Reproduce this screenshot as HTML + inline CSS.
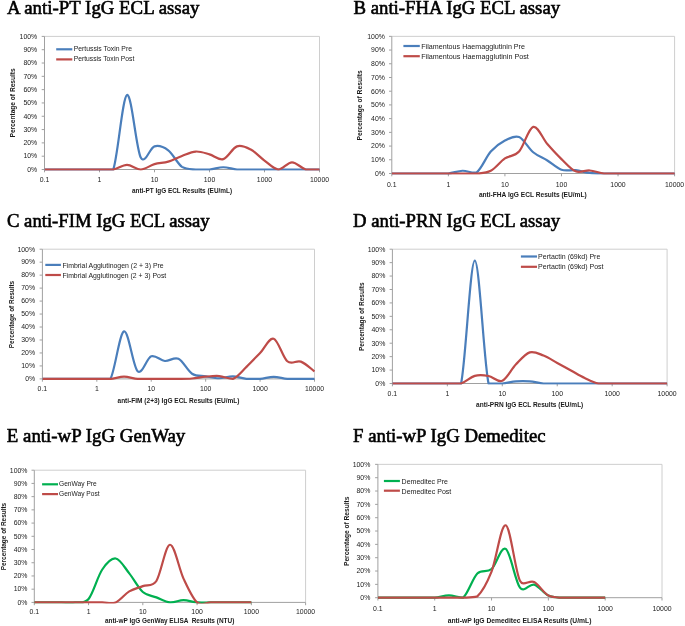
<!DOCTYPE html>
<html><head><meta charset="utf-8"><style>
html,body{margin:0;padding:0;background:#fff;width:685px;height:626px;overflow:hidden}
svg{display:block;will-change:transform}
</style></head><body>
<svg width="685" height="626" viewBox="0 0 685 626" font-family='"Liberation Sans", sans-serif' fill="#1a1a1a">
<rect width="685" height="626" fill="#fff"/>
<text x="7.0" y="13.7" font-family='"Liberation Serif", serif' font-size="18.84" fill="#000" stroke="#000" stroke-width="0.6">A anti-PT IgG ECL assay</text>
<path d="M44.5,36.4H319.5V169.5" fill="none" stroke="#CECECE" stroke-width="1"/>
<path d="M44.5,36.4V169.5" fill="none" stroke="#A0A0A0" stroke-width="1"/>
<path d="M41.70,169.50H44.5M41.70,156.19H44.5M41.70,142.88H44.5M41.70,129.57H44.5M41.70,116.26H44.5M41.70,102.95H44.5M41.70,89.64H44.5M41.70,76.33H44.5M41.70,63.02H44.5M41.70,49.71H44.5M41.70,36.40H44.5" fill="none" stroke="#A0A0A0" stroke-width="1"/>
<path d="M44.5,169.5H319.5" fill="none" stroke="#A0A0A0" stroke-width="1"/>
<path d="M44.50,169.5V172.30M99.50,169.5V172.30M154.50,169.5V172.30M209.50,169.5V172.30M264.50,169.5V172.30M319.50,169.5V172.30" fill="none" stroke="#A0A0A0" stroke-width="1"/>
<text x="37.199999999999996" y="171.80" text-anchor="end" font-size="7.5" textLength="9.97" lengthAdjust="spacingAndGlyphs">0%</text>
<text x="37.199999999999996" y="158.49" text-anchor="end" font-size="7.5" textLength="13.81" lengthAdjust="spacingAndGlyphs">10%</text>
<text x="37.199999999999996" y="145.18" text-anchor="end" font-size="7.5" textLength="13.81" lengthAdjust="spacingAndGlyphs">20%</text>
<text x="37.199999999999996" y="131.87" text-anchor="end" font-size="7.5" textLength="13.81" lengthAdjust="spacingAndGlyphs">30%</text>
<text x="37.199999999999996" y="118.56" text-anchor="end" font-size="7.5" textLength="13.81" lengthAdjust="spacingAndGlyphs">40%</text>
<text x="37.199999999999996" y="105.25" text-anchor="end" font-size="7.5" textLength="13.81" lengthAdjust="spacingAndGlyphs">50%</text>
<text x="37.199999999999996" y="91.94" text-anchor="end" font-size="7.5" textLength="13.81" lengthAdjust="spacingAndGlyphs">60%</text>
<text x="37.199999999999996" y="78.63" text-anchor="end" font-size="7.5" textLength="13.81" lengthAdjust="spacingAndGlyphs">70%</text>
<text x="37.199999999999996" y="65.32" text-anchor="end" font-size="7.5" textLength="13.81" lengthAdjust="spacingAndGlyphs">80%</text>
<text x="37.199999999999996" y="52.01" text-anchor="end" font-size="7.5" textLength="13.81" lengthAdjust="spacingAndGlyphs">90%</text>
<text x="37.199999999999996" y="38.70" text-anchor="end" font-size="7.5" textLength="17.65" lengthAdjust="spacingAndGlyphs">100%</text>
<text x="44.50" y="182.4" text-anchor="middle" font-size="7.5" textLength="9.59" lengthAdjust="spacingAndGlyphs">0.1</text>
<text x="99.50" y="182.4" text-anchor="middle" font-size="7.5" textLength="3.84" lengthAdjust="spacingAndGlyphs">1</text>
<text x="154.50" y="182.4" text-anchor="middle" font-size="7.5" textLength="7.67" lengthAdjust="spacingAndGlyphs">10</text>
<text x="209.50" y="182.4" text-anchor="middle" font-size="7.5" textLength="11.51" lengthAdjust="spacingAndGlyphs">100</text>
<text x="264.50" y="182.4" text-anchor="middle" font-size="7.5" textLength="15.35" lengthAdjust="spacingAndGlyphs">1000</text>
<text x="319.50" y="182.4" text-anchor="middle" font-size="7.5" textLength="19.19" lengthAdjust="spacingAndGlyphs">10000</text>
<text x="131.9" y="192.65" font-size="7.0" font-weight="bold" textLength="100.2" lengthAdjust="spacingAndGlyphs" xml:space="preserve">anti-PT IgG ECL Results (EU/mL)</text>
<text transform="translate(15.3,137.5) rotate(-90)" x="0" y="0" font-size="6.6" font-weight="bold" textLength="69.2" lengthAdjust="spacingAndGlyphs">Percentage of Results</text>
<path d="M56.2,49.3H72.3" stroke="#4A7EBB" stroke-width="2.2" fill="none"/>
<text x="73.70" y="51.25" font-size="7.3" textLength="58.3" lengthAdjust="spacingAndGlyphs">Pertussis Toxin Pre</text>
<path d="M56.2,59.4H72.3" stroke="#BE4B48" stroke-width="2.2" fill="none"/>
<text x="73.70" y="61.35" font-size="7.3" textLength="60.7" lengthAdjust="spacingAndGlyphs">Pertussis Toxin Post</text>
<clipPath id="clipA"><rect x="44.5" y="33.4" width="275.5" height="137.29999999999998"/></clipPath>
<path clip-path="url(#clipA)" d="M44.50,169.50 C46.79,169.50 53.67,169.50 58.25,169.50 C62.83,169.50 67.42,169.50 72.00,169.50 C76.58,169.50 81.17,169.50 85.75,169.50 C90.33,169.50 94.92,169.50 99.50,169.50 C104.08,169.50 110.87,169.50 113.25,169.50 C117.83,157.08 122.42,96.96 127.00,94.96 C131.58,92.97 136.17,148.96 140.75,157.52 C144.93,165.33 149.92,147.54 154.50,146.34 C159.08,145.14 163.67,146.92 168.25,150.33 C172.83,153.75 177.42,163.64 182.00,166.84 C186.58,169.50 191.17,169.06 195.75,169.50 C200.33,169.50 204.92,169.50 209.50,169.50 C214.08,169.12 218.67,167.24 223.25,167.24 C227.83,167.24 232.42,169.12 237.00,169.50 C241.58,169.50 246.17,169.50 250.75,169.50 C255.33,169.50 259.92,169.50 264.50,169.50 C269.08,169.50 273.67,169.50 278.25,169.50 C282.83,169.50 287.42,169.50 292.00,169.50 C296.58,169.50 301.17,169.50 305.75,169.50 C310.33,169.50 317.21,169.50 319.50,169.50" fill="none" stroke="#4A7EBB" stroke-width="2.2" stroke-linejoin="round"/>
<path clip-path="url(#clipA)" d="M44.50,169.50 C46.79,169.50 53.67,169.50 58.25,169.50 C62.83,169.50 67.42,169.50 72.00,169.50 C76.58,169.50 81.17,169.50 85.75,169.50 C90.33,169.50 94.92,169.50 99.50,169.50 C104.08,169.50 108.67,169.50 113.25,169.50 C117.83,168.72 122.42,164.84 127.00,164.84 C131.58,164.84 136.17,169.50 140.75,169.50 C145.33,169.39 149.92,165.48 154.50,164.18 C159.08,162.87 163.67,163.02 168.25,161.65 C172.83,160.27 177.42,157.61 182.00,155.92 C186.58,154.24 191.17,151.80 195.75,151.53 C200.33,151.27 204.92,153.06 209.50,154.33 C214.08,155.59 218.67,160.45 223.25,159.12 C227.83,157.79 232.42,147.94 237.00,146.34 C241.58,144.74 246.17,147.16 250.75,149.53 C255.33,151.91 259.92,157.25 264.50,160.58 C269.08,163.91 273.67,169.21 278.25,169.50 C282.83,169.50 287.42,162.31 292.00,162.31 C296.58,162.31 301.17,168.30 305.75,169.50 C310.33,169.50 317.21,169.50 319.50,169.50" fill="none" stroke="#BE4B48" stroke-width="2.2" stroke-linejoin="round"/>
<text x="353.5" y="13.7" font-family='"Liberation Serif", serif' font-size="18.75" fill="#000" stroke="#000" stroke-width="0.6">B anti-FHA IgG ECL assay</text>
<path d="M391.8,36.35H674.6V173.5" fill="none" stroke="#CECECE" stroke-width="1"/>
<path d="M391.8,36.35V173.5" fill="none" stroke="#A0A0A0" stroke-width="1"/>
<path d="M389.00,173.50H391.8M389.00,159.78H391.8M389.00,146.07H391.8M389.00,132.36H391.8M389.00,118.64H391.8M389.00,104.92H391.8M389.00,91.21H391.8M389.00,77.50H391.8M389.00,63.78H391.8M389.00,50.06H391.8M389.00,36.35H391.8" fill="none" stroke="#A0A0A0" stroke-width="1"/>
<path d="M391.8,173.5H674.6" fill="none" stroke="#A0A0A0" stroke-width="1"/>
<path d="M391.80,173.5V176.30M448.36,173.5V176.30M504.92,173.5V176.30M561.48,173.5V176.30M618.04,173.5V176.30M674.60,173.5V176.30" fill="none" stroke="#A0A0A0" stroke-width="1"/>
<text x="384.90000000000003" y="175.80" text-anchor="end" font-size="7.5" textLength="9.97" lengthAdjust="spacingAndGlyphs">0%</text>
<text x="384.90000000000003" y="162.09" text-anchor="end" font-size="7.5" textLength="13.81" lengthAdjust="spacingAndGlyphs">10%</text>
<text x="384.90000000000003" y="148.37" text-anchor="end" font-size="7.5" textLength="13.81" lengthAdjust="spacingAndGlyphs">20%</text>
<text x="384.90000000000003" y="134.66" text-anchor="end" font-size="7.5" textLength="13.81" lengthAdjust="spacingAndGlyphs">30%</text>
<text x="384.90000000000003" y="120.94" text-anchor="end" font-size="7.5" textLength="13.81" lengthAdjust="spacingAndGlyphs">40%</text>
<text x="384.90000000000003" y="107.22" text-anchor="end" font-size="7.5" textLength="13.81" lengthAdjust="spacingAndGlyphs">50%</text>
<text x="384.90000000000003" y="93.51" text-anchor="end" font-size="7.5" textLength="13.81" lengthAdjust="spacingAndGlyphs">60%</text>
<text x="384.90000000000003" y="79.80" text-anchor="end" font-size="7.5" textLength="13.81" lengthAdjust="spacingAndGlyphs">70%</text>
<text x="384.90000000000003" y="66.08" text-anchor="end" font-size="7.5" textLength="13.81" lengthAdjust="spacingAndGlyphs">80%</text>
<text x="384.90000000000003" y="52.36" text-anchor="end" font-size="7.5" textLength="13.81" lengthAdjust="spacingAndGlyphs">90%</text>
<text x="384.90000000000003" y="38.65" text-anchor="end" font-size="7.5" textLength="17.65" lengthAdjust="spacingAndGlyphs">100%</text>
<text x="391.80" y="186.5" text-anchor="middle" font-size="7.5" textLength="9.59" lengthAdjust="spacingAndGlyphs">0.1</text>
<text x="448.36" y="186.5" text-anchor="middle" font-size="7.5" textLength="3.84" lengthAdjust="spacingAndGlyphs">1</text>
<text x="504.92" y="186.5" text-anchor="middle" font-size="7.5" textLength="7.67" lengthAdjust="spacingAndGlyphs">10</text>
<text x="561.48" y="186.5" text-anchor="middle" font-size="7.5" textLength="11.51" lengthAdjust="spacingAndGlyphs">100</text>
<text x="618.04" y="186.5" text-anchor="middle" font-size="7.5" textLength="15.35" lengthAdjust="spacingAndGlyphs">1000</text>
<text x="674.60" y="186.5" text-anchor="middle" font-size="7.5" textLength="19.19" lengthAdjust="spacingAndGlyphs">10000</text>
<text x="478.9" y="196.85" font-size="7.0" font-weight="bold" textLength="107.8" lengthAdjust="spacingAndGlyphs" xml:space="preserve">anti-FHA IgG ECL Results (EU/mL)</text>
<text transform="translate(362.0,140.5) rotate(-90)" x="0" y="0" font-size="6.6" font-weight="bold" textLength="70.3" lengthAdjust="spacingAndGlyphs">Percentage of Results</text>
<path d="M403.4,46.0H419.8" stroke="#4A7EBB" stroke-width="2.2" fill="none"/>
<text x="421.20" y="48.80" font-size="7.3" textLength="103.8" lengthAdjust="spacingAndGlyphs">Filamentous Haemagglutinin Pre</text>
<path d="M403.4,56.2H419.8" stroke="#BE4B48" stroke-width="2.2" fill="none"/>
<text x="421.20" y="59.00" font-size="7.3" textLength="107.6" lengthAdjust="spacingAndGlyphs">Filamentous Haemagglutinin Post</text>
<clipPath id="clipB"><rect x="391.8" y="33.35" width="283.3" height="141.35"/></clipPath>
<path clip-path="url(#clipB)" d="M391.80,173.50 C394.16,173.50 401.23,173.50 405.94,173.50 C410.65,173.50 415.37,173.50 420.08,173.50 C424.79,173.50 429.51,173.50 434.22,173.50 C438.93,173.50 443.65,173.50 448.36,173.50 C453.07,173.04 457.79,170.94 462.50,170.76 C467.21,170.57 471.93,173.50 476.64,172.40 C481.35,169.20 486.07,156.86 490.78,151.56 C495.49,146.25 500.21,143.01 504.92,140.58 C509.63,138.16 514.35,135.08 519.06,137.02 C523.77,138.96 528.49,148.33 533.20,152.24 C537.91,156.15 542.63,157.54 547.34,160.47 C552.05,163.40 556.77,168.17 561.48,169.80 C566.19,171.42 570.91,169.68 575.62,170.21 C580.33,170.73 585.05,172.40 589.76,172.95 C594.47,173.50 599.19,173.41 603.90,173.50 C608.61,173.50 613.33,173.50 618.04,173.50 C622.75,173.50 627.47,173.50 632.18,173.50 C636.89,173.50 641.61,173.50 646.32,173.50 C651.03,173.50 655.75,173.50 660.46,173.50 C665.17,173.50 672.24,173.50 674.60,173.50" fill="none" stroke="#4A7EBB" stroke-width="2.2" stroke-linejoin="round"/>
<path clip-path="url(#clipB)" d="M391.80,173.50 C394.16,173.50 401.23,173.50 405.94,173.50 C410.65,173.50 415.37,173.50 420.08,173.50 C424.79,173.50 429.51,173.50 434.22,173.50 C438.93,173.50 443.65,173.50 448.36,173.50 C453.07,173.50 457.79,173.50 462.50,173.50 C467.21,173.50 471.93,173.50 476.64,173.50 C481.35,173.04 486.07,173.27 490.78,170.76 C495.49,168.24 500.21,161.61 504.92,158.41 C509.63,155.21 514.35,156.81 519.06,151.56 C523.77,146.30 528.49,128.13 533.20,126.87 C537.91,125.61 542.63,138.64 547.34,144.01 C552.05,149.38 556.77,154.55 561.48,159.10 C566.19,163.65 570.91,169.41 575.62,171.31 C580.33,173.20 585.05,170.12 589.76,170.48 C594.47,170.85 599.19,173.00 603.90,173.50 C608.61,173.50 613.33,173.50 618.04,173.50 C622.75,173.50 627.47,173.50 632.18,173.50 C636.89,173.50 641.61,173.50 646.32,173.50 C651.03,173.50 655.75,173.50 660.46,173.50 C665.17,173.50 672.24,173.50 674.60,173.50" fill="none" stroke="#BE4B48" stroke-width="2.2" stroke-linejoin="round"/>
<text x="7.0" y="227.0" font-family='"Liberation Serif", serif' font-size="18.68" fill="#000" stroke="#000" stroke-width="0.6">C anti-FIM IgG ECL assay</text>
<path d="M42.4,249.2H314.5V378.9" fill="none" stroke="#CECECE" stroke-width="1"/>
<path d="M42.4,249.2V378.9" fill="none" stroke="#A0A0A0" stroke-width="1"/>
<path d="M39.60,378.90H42.4M39.60,365.93H42.4M39.60,352.96H42.4M39.60,339.99H42.4M39.60,327.02H42.4M39.60,314.05H42.4M39.60,301.08H42.4M39.60,288.11H42.4M39.60,275.14H42.4M39.60,262.17H42.4M39.60,249.20H42.4" fill="none" stroke="#A0A0A0" stroke-width="1"/>
<path d="M42.4,378.9H314.5" fill="none" stroke="#A0A0A0" stroke-width="1"/>
<path d="M42.40,378.9V381.70M96.82,378.9V381.70M151.24,378.9V381.70M205.66,378.9V381.70M260.08,378.9V381.70M314.50,378.9V381.70" fill="none" stroke="#A0A0A0" stroke-width="1"/>
<text x="35.099999999999994" y="381.20" text-anchor="end" font-size="7.5" textLength="9.97" lengthAdjust="spacingAndGlyphs">0%</text>
<text x="35.099999999999994" y="368.23" text-anchor="end" font-size="7.5" textLength="13.81" lengthAdjust="spacingAndGlyphs">10%</text>
<text x="35.099999999999994" y="355.26" text-anchor="end" font-size="7.5" textLength="13.81" lengthAdjust="spacingAndGlyphs">20%</text>
<text x="35.099999999999994" y="342.29" text-anchor="end" font-size="7.5" textLength="13.81" lengthAdjust="spacingAndGlyphs">30%</text>
<text x="35.099999999999994" y="329.32" text-anchor="end" font-size="7.5" textLength="13.81" lengthAdjust="spacingAndGlyphs">40%</text>
<text x="35.099999999999994" y="316.35" text-anchor="end" font-size="7.5" textLength="13.81" lengthAdjust="spacingAndGlyphs">50%</text>
<text x="35.099999999999994" y="303.38" text-anchor="end" font-size="7.5" textLength="13.81" lengthAdjust="spacingAndGlyphs">60%</text>
<text x="35.099999999999994" y="290.41" text-anchor="end" font-size="7.5" textLength="13.81" lengthAdjust="spacingAndGlyphs">70%</text>
<text x="35.099999999999994" y="277.44" text-anchor="end" font-size="7.5" textLength="13.81" lengthAdjust="spacingAndGlyphs">80%</text>
<text x="35.099999999999994" y="264.47" text-anchor="end" font-size="7.5" textLength="13.81" lengthAdjust="spacingAndGlyphs">90%</text>
<text x="35.099999999999994" y="251.50" text-anchor="end" font-size="7.5" textLength="17.65" lengthAdjust="spacingAndGlyphs">100%</text>
<text x="42.40" y="391.1" text-anchor="middle" font-size="7.5" textLength="9.59" lengthAdjust="spacingAndGlyphs">0.1</text>
<text x="96.82" y="391.1" text-anchor="middle" font-size="7.5" textLength="3.84" lengthAdjust="spacingAndGlyphs">1</text>
<text x="151.24" y="391.1" text-anchor="middle" font-size="7.5" textLength="7.67" lengthAdjust="spacingAndGlyphs">10</text>
<text x="205.66" y="391.1" text-anchor="middle" font-size="7.5" textLength="11.51" lengthAdjust="spacingAndGlyphs">100</text>
<text x="260.08" y="391.1" text-anchor="middle" font-size="7.5" textLength="15.35" lengthAdjust="spacingAndGlyphs">1000</text>
<text x="314.50" y="391.1" text-anchor="middle" font-size="7.5" textLength="19.19" lengthAdjust="spacingAndGlyphs">10000</text>
<text x="117.5" y="402.95" font-size="7.0" font-weight="bold" textLength="122.0" lengthAdjust="spacingAndGlyphs" xml:space="preserve">anti-FIM (2+3) IgG ECL Results (EU/mL)</text>
<text transform="translate(13.899999999999999,348.2) rotate(-90)" x="0" y="0" font-size="6.6" font-weight="bold" textLength="67.4" lengthAdjust="spacingAndGlyphs">Percentage of Results</text>
<path d="M45.3,264.9H60.9" stroke="#4A7EBB" stroke-width="2.2" fill="none"/>
<text x="62.40" y="267.85" font-size="7.3" textLength="101.3" lengthAdjust="spacingAndGlyphs">Fimbrial Agglutinogen (2 + 3) Pre</text>
<path d="M45.3,275.0H60.9" stroke="#BE4B48" stroke-width="2.2" fill="none"/>
<text x="62.40" y="277.95" font-size="7.3" textLength="103.9" lengthAdjust="spacingAndGlyphs">Fimbrial Agglutinogen (2 + 3) Post</text>
<clipPath id="clipC"><rect x="42.4" y="246.2" width="272.6" height="133.89999999999998"/></clipPath>
<path clip-path="url(#clipC)" d="M42.40,378.90 C44.67,378.90 51.47,378.90 56.00,378.90 C60.54,378.90 65.08,378.90 69.61,378.90 C74.14,378.90 78.68,378.90 83.22,378.90 C87.75,378.90 92.28,378.90 96.82,378.90 C101.35,378.90 107.04,378.90 110.43,378.90 C114.96,370.99 119.50,332.71 124.03,331.43 C128.56,330.15 133.10,367.10 137.63,371.25 C142.17,375.40 146.71,358.04 151.24,356.33 C155.78,354.62 160.31,360.59 164.84,361.00 C169.38,361.41 173.92,356.68 178.45,358.80 C182.99,360.91 187.52,370.79 192.06,373.71 C196.59,376.63 201.12,375.55 205.66,376.31 C210.19,377.06 214.73,378.25 219.27,378.25 C223.80,378.25 228.34,376.20 232.87,376.31 C237.41,376.41 241.94,378.47 246.48,378.90 C251.01,378.90 255.54,378.90 260.08,378.90 C264.62,378.55 269.15,376.82 273.69,376.82 C278.22,376.82 282.75,378.55 287.29,378.90 C291.83,378.90 296.36,378.90 300.89,378.90 C305.43,378.90 312.23,378.90 314.50,378.90" fill="none" stroke="#4A7EBB" stroke-width="2.2" stroke-linejoin="round"/>
<path clip-path="url(#clipC)" d="M42.40,378.90 C44.67,378.90 51.47,378.90 56.00,378.90 C60.54,378.90 65.08,378.90 69.61,378.90 C74.14,378.90 78.68,378.90 83.22,378.90 C87.75,378.90 92.28,378.90 96.82,378.90 C101.35,378.90 105.89,378.90 110.43,378.90 C114.96,378.53 119.50,376.70 124.03,376.70 C128.56,376.70 133.10,378.53 137.63,378.90 C142.17,378.90 146.71,378.90 151.24,378.90 C155.78,378.90 160.31,378.90 164.84,378.90 C169.38,378.90 173.92,378.90 178.45,378.90 C182.99,378.84 187.52,378.88 192.06,378.51 C196.59,378.14 201.12,377.11 205.66,376.70 C210.19,376.28 214.73,375.68 219.27,376.05 C223.80,376.41 228.34,378.90 232.87,378.90 C237.41,377.37 241.94,371.16 246.48,366.84 C251.01,362.51 255.54,357.65 260.08,352.96 C264.62,348.27 269.15,337.31 273.69,338.69 C278.22,340.08 282.75,357.43 287.29,361.26 C291.83,365.09 296.36,359.96 300.89,361.65 C305.43,363.34 312.23,369.76 314.50,371.38" fill="none" stroke="#BE4B48" stroke-width="2.2" stroke-linejoin="round"/>
<text x="353.1" y="227.0" font-family='"Liberation Serif", serif' font-size="18.72" fill="#000" stroke="#000" stroke-width="0.6">D anti-PRN IgG ECL assay</text>
<path d="M392.4,249.2H667.1V383.5" fill="none" stroke="#CECECE" stroke-width="1"/>
<path d="M392.4,249.2V383.5" fill="none" stroke="#A0A0A0" stroke-width="1"/>
<path d="M389.60,383.50H392.4M389.60,370.07H392.4M389.60,356.64H392.4M389.60,343.21H392.4M389.60,329.78H392.4M389.60,316.35H392.4M389.60,302.92H392.4M389.60,289.49H392.4M389.60,276.06H392.4M389.60,262.63H392.4M389.60,249.20H392.4" fill="none" stroke="#A0A0A0" stroke-width="1"/>
<path d="M392.4,383.5H667.1" fill="none" stroke="#A0A0A0" stroke-width="1"/>
<path d="M392.40,383.5V386.30M447.34,383.5V386.30M502.28,383.5V386.30M557.22,383.5V386.30M612.16,383.5V386.30M667.10,383.5V386.30" fill="none" stroke="#A0A0A0" stroke-width="1"/>
<text x="385.3" y="385.80" text-anchor="end" font-size="7.5" textLength="9.97" lengthAdjust="spacingAndGlyphs">0%</text>
<text x="385.3" y="372.37" text-anchor="end" font-size="7.5" textLength="13.81" lengthAdjust="spacingAndGlyphs">10%</text>
<text x="385.3" y="358.94" text-anchor="end" font-size="7.5" textLength="13.81" lengthAdjust="spacingAndGlyphs">20%</text>
<text x="385.3" y="345.51" text-anchor="end" font-size="7.5" textLength="13.81" lengthAdjust="spacingAndGlyphs">30%</text>
<text x="385.3" y="332.08" text-anchor="end" font-size="7.5" textLength="13.81" lengthAdjust="spacingAndGlyphs">40%</text>
<text x="385.3" y="318.65" text-anchor="end" font-size="7.5" textLength="13.81" lengthAdjust="spacingAndGlyphs">50%</text>
<text x="385.3" y="305.22" text-anchor="end" font-size="7.5" textLength="13.81" lengthAdjust="spacingAndGlyphs">60%</text>
<text x="385.3" y="291.79" text-anchor="end" font-size="7.5" textLength="13.81" lengthAdjust="spacingAndGlyphs">70%</text>
<text x="385.3" y="278.36" text-anchor="end" font-size="7.5" textLength="13.81" lengthAdjust="spacingAndGlyphs">80%</text>
<text x="385.3" y="264.93" text-anchor="end" font-size="7.5" textLength="13.81" lengthAdjust="spacingAndGlyphs">90%</text>
<text x="385.3" y="251.50" text-anchor="end" font-size="7.5" textLength="17.65" lengthAdjust="spacingAndGlyphs">100%</text>
<text x="392.40" y="395.8" text-anchor="middle" font-size="7.5" textLength="9.59" lengthAdjust="spacingAndGlyphs">0.1</text>
<text x="447.34" y="395.8" text-anchor="middle" font-size="7.5" textLength="3.84" lengthAdjust="spacingAndGlyphs">1</text>
<text x="502.28" y="395.8" text-anchor="middle" font-size="7.5" textLength="7.67" lengthAdjust="spacingAndGlyphs">10</text>
<text x="557.22" y="395.8" text-anchor="middle" font-size="7.5" textLength="11.51" lengthAdjust="spacingAndGlyphs">100</text>
<text x="612.16" y="395.8" text-anchor="middle" font-size="7.5" textLength="15.35" lengthAdjust="spacingAndGlyphs">1000</text>
<text x="667.10" y="395.8" text-anchor="middle" font-size="7.5" textLength="19.19" lengthAdjust="spacingAndGlyphs">10000</text>
<text x="476.1" y="406.84999999999997" font-size="7.0" font-weight="bold" textLength="107.2" lengthAdjust="spacingAndGlyphs" xml:space="preserve">anti-PRN IgG ECL Results (EU/mL)</text>
<text transform="translate(363.59999999999997,351.0) rotate(-90)" x="0" y="0" font-size="6.6" font-weight="bold" textLength="68.6" lengthAdjust="spacingAndGlyphs">Percentage of Results</text>
<path d="M520.9,256.5H537.0" stroke="#4A7EBB" stroke-width="2.2" fill="none"/>
<text x="538.10" y="258.95" font-size="7.3" textLength="62.2" lengthAdjust="spacingAndGlyphs">Pertactin (69kd) Pre</text>
<path d="M520.9,266.8H537.0" stroke="#BE4B48" stroke-width="2.2" fill="none"/>
<text x="538.10" y="269.25" font-size="7.3" textLength="65.4" lengthAdjust="spacingAndGlyphs">Pertactin (69kd) Post</text>
<clipPath id="clipD"><rect x="392.4" y="246.2" width="275.20000000000005" height="138.5"/></clipPath>
<path clip-path="url(#clipD)" d="M392.40,383.50 C394.69,383.50 401.56,383.50 406.13,383.50 C410.71,383.50 415.29,383.50 419.87,383.50 C424.45,383.50 429.03,383.50 433.61,383.50 C438.18,383.50 442.76,383.50 447.34,383.50 C451.92,383.50 459.58,383.50 461.07,383.50 C465.65,363.02 470.23,260.62 474.81,260.62 C479.39,260.62 483.97,363.02 488.55,383.50 C490.04,383.50 497.70,383.50 502.28,383.50 C506.86,383.14 511.44,381.71 516.01,381.35 C520.59,380.99 525.17,380.99 529.75,381.35 C534.33,381.71 538.91,383.14 543.49,383.50 C548.06,383.50 552.64,383.50 557.22,383.50 C561.80,383.50 566.38,383.50 570.96,383.50 C575.53,383.50 580.11,383.50 584.69,383.50 C589.27,383.50 593.85,383.50 598.42,383.50 C603.00,383.50 607.58,383.50 612.16,383.50 C616.74,383.50 621.32,383.50 625.89,383.50 C630.47,383.50 635.05,383.50 639.63,383.50 C644.21,383.50 648.79,383.50 653.37,383.50 C657.94,383.50 664.81,383.50 667.10,383.50" fill="none" stroke="#4A7EBB" stroke-width="2.2" stroke-linejoin="round"/>
<path clip-path="url(#clipD)" d="M392.40,383.50 C394.69,383.50 401.56,383.50 406.13,383.50 C410.71,383.50 415.29,383.50 419.87,383.50 C424.45,383.50 429.03,383.50 433.61,383.50 C438.18,383.50 442.76,383.50 447.34,383.50 C451.92,383.50 456.50,383.50 461.07,383.50 C465.65,382.22 470.23,377.10 474.81,375.84 C479.39,374.59 483.97,375.15 488.55,375.98 C493.12,376.81 497.70,382.76 502.28,380.81 C506.86,378.87 511.44,369.04 516.01,364.30 C520.59,359.55 525.17,353.80 529.75,352.34 C534.33,350.89 538.91,353.80 543.49,355.57 C548.06,357.33 552.64,360.47 557.22,362.95 C561.80,365.44 566.38,367.97 570.96,370.47 C575.53,372.98 580.11,375.82 584.69,377.99 C589.27,380.16 593.85,382.58 598.42,383.50 C603.00,383.50 607.58,383.50 612.16,383.50 C616.74,383.50 621.32,383.50 625.89,383.50 C630.47,383.50 635.05,383.50 639.63,383.50 C644.21,383.50 648.79,383.50 653.37,383.50 C657.94,383.50 664.81,383.50 667.10,383.50" fill="none" stroke="#BE4B48" stroke-width="2.2" stroke-linejoin="round"/>
<text x="6.8" y="441.7" font-family='"Liberation Serif", serif' font-size="18.86" fill="#000" stroke="#000" stroke-width="0.6">E anti-wP IgG GenWay</text>
<path d="M34.3,470.2H305.6V602.4" fill="none" stroke="#CECECE" stroke-width="1"/>
<path d="M34.3,470.2V602.4" fill="none" stroke="#A0A0A0" stroke-width="1"/>
<path d="M31.50,602.40H34.3M31.50,589.18H34.3M31.50,575.96H34.3M31.50,562.74H34.3M31.50,549.52H34.3M31.50,536.30H34.3M31.50,523.08H34.3M31.50,509.86H34.3M31.50,496.64H34.3M31.50,483.42H34.3M31.50,470.20H34.3" fill="none" stroke="#A0A0A0" stroke-width="1"/>
<path d="M34.3,602.4H305.6" fill="none" stroke="#A0A0A0" stroke-width="1"/>
<path d="M34.30,602.4V605.20M88.56,602.4V605.20M142.82,602.4V605.20M197.08,602.4V605.20M251.34,602.4V605.20M305.60,602.4V605.20" fill="none" stroke="#A0A0A0" stroke-width="1"/>
<text x="27.5" y="604.70" text-anchor="end" font-size="7.5" textLength="9.97" lengthAdjust="spacingAndGlyphs">0%</text>
<text x="27.5" y="591.48" text-anchor="end" font-size="7.5" textLength="13.81" lengthAdjust="spacingAndGlyphs">10%</text>
<text x="27.5" y="578.26" text-anchor="end" font-size="7.5" textLength="13.81" lengthAdjust="spacingAndGlyphs">20%</text>
<text x="27.5" y="565.04" text-anchor="end" font-size="7.5" textLength="13.81" lengthAdjust="spacingAndGlyphs">30%</text>
<text x="27.5" y="551.82" text-anchor="end" font-size="7.5" textLength="13.81" lengthAdjust="spacingAndGlyphs">40%</text>
<text x="27.5" y="538.60" text-anchor="end" font-size="7.5" textLength="13.81" lengthAdjust="spacingAndGlyphs">50%</text>
<text x="27.5" y="525.38" text-anchor="end" font-size="7.5" textLength="13.81" lengthAdjust="spacingAndGlyphs">60%</text>
<text x="27.5" y="512.16" text-anchor="end" font-size="7.5" textLength="13.81" lengthAdjust="spacingAndGlyphs">70%</text>
<text x="27.5" y="498.94" text-anchor="end" font-size="7.5" textLength="13.81" lengthAdjust="spacingAndGlyphs">80%</text>
<text x="27.5" y="485.72" text-anchor="end" font-size="7.5" textLength="13.81" lengthAdjust="spacingAndGlyphs">90%</text>
<text x="27.5" y="472.50" text-anchor="end" font-size="7.5" textLength="17.65" lengthAdjust="spacingAndGlyphs">100%</text>
<text x="34.30" y="614.4" text-anchor="middle" font-size="7.5" textLength="9.59" lengthAdjust="spacingAndGlyphs">0.1</text>
<text x="88.56" y="614.4" text-anchor="middle" font-size="7.5" textLength="3.84" lengthAdjust="spacingAndGlyphs">1</text>
<text x="142.82" y="614.4" text-anchor="middle" font-size="7.5" textLength="7.67" lengthAdjust="spacingAndGlyphs">10</text>
<text x="197.08" y="614.4" text-anchor="middle" font-size="7.5" textLength="11.51" lengthAdjust="spacingAndGlyphs">100</text>
<text x="251.34" y="614.4" text-anchor="middle" font-size="7.5" textLength="15.35" lengthAdjust="spacingAndGlyphs">1000</text>
<text x="305.60" y="614.4" text-anchor="middle" font-size="7.5" textLength="19.19" lengthAdjust="spacingAndGlyphs">10000</text>
<text x="104.9" y="623.15" font-size="7.0" font-weight="bold" textLength="129.4" lengthAdjust="spacingAndGlyphs" xml:space="preserve">anti-wP IgG GenWay ELISA  Results (NTU)</text>
<text transform="translate(6.1,570.3) rotate(-90)" x="0" y="0" font-size="6.6" font-weight="bold" textLength="67.5" lengthAdjust="spacingAndGlyphs">Percentage of Results</text>
<path d="M42.1,484.3H58.0" stroke="#00B050" stroke-width="2.2" fill="none"/>
<text x="59.00" y="486.30" font-size="7.3" textLength="37.7" lengthAdjust="spacingAndGlyphs">GenWay Pre</text>
<path d="M42.1,494.1H58.0" stroke="#BE4B48" stroke-width="2.2" fill="none"/>
<text x="59.00" y="496.10" font-size="7.3" textLength="40.6" lengthAdjust="spacingAndGlyphs">GenWay Post</text>
<clipPath id="clipE"><rect x="34.3" y="467.2" width="271.8" height="136.39999999999998"/></clipPath>
<path clip-path="url(#clipE)" d="M34.30,602.40 C36.56,602.40 43.34,602.40 47.86,602.40 C52.39,602.40 56.91,602.40 61.43,602.40 C65.95,602.40 70.47,602.97 75.00,602.40 C79.52,601.83 84.09,604.34 88.56,598.96 C93.08,593.52 97.60,576.49 102.12,569.75 C106.65,563.00 111.17,557.91 115.69,558.51 C120.21,559.10 124.73,567.74 129.25,573.32 C133.78,578.89 138.30,587.95 142.82,591.96 C147.34,595.97 151.86,595.64 156.38,597.38 C160.91,599.12 165.43,601.94 169.95,602.40 C174.47,602.86 178.99,600.15 183.51,600.15 C188.04,600.15 192.56,602.03 197.08,602.40 C201.60,602.77 206.12,602.40 210.65,602.40 C215.17,602.40 219.69,602.40 224.21,602.40 C228.73,602.40 233.25,602.40 237.78,602.40 C242.30,602.40 249.08,602.40 251.34,602.40" fill="none" stroke="#00B050" stroke-width="2.2" stroke-linejoin="round"/>
<path clip-path="url(#clipE)" d="M34.30,602.40 C36.56,602.40 43.34,602.40 47.86,602.40 C52.39,602.40 56.91,602.40 61.43,602.40 C65.95,602.40 70.47,602.40 75.00,602.40 C79.52,602.40 84.04,602.40 88.56,602.40 C93.08,602.40 97.60,602.40 102.12,602.40 C106.65,602.40 111.17,604.23 115.69,602.40 C120.21,600.57 124.73,594.14 129.25,591.43 C133.78,588.72 138.30,587.88 142.82,586.14 C147.34,584.40 152.41,587.05 156.38,580.98 C160.91,574.09 165.43,545.16 169.95,544.76 C174.47,544.36 178.99,569.00 183.51,578.60 C188.04,588.21 192.56,598.43 197.08,602.40 C201.60,606.37 206.12,602.40 210.65,602.40 C215.17,602.40 219.69,602.40 224.21,602.40 C228.73,602.40 233.25,602.40 237.78,602.40 C242.30,602.40 249.08,602.40 251.34,602.40" fill="none" stroke="#BE4B48" stroke-width="2.2" stroke-linejoin="round"/>
<text x="353.1" y="441.7" font-family='"Liberation Serif", serif' font-size="18.75" fill="#000" stroke="#000" stroke-width="0.6">F anti-wP IgG Demeditec</text>
<path d="M377.9,464.35H662.0V597.7" fill="none" stroke="#CECECE" stroke-width="1"/>
<path d="M377.9,464.35V597.7" fill="none" stroke="#A0A0A0" stroke-width="1"/>
<path d="M375.10,597.70H377.9M375.10,584.37H377.9M375.10,571.03H377.9M375.10,557.70H377.9M375.10,544.36H377.9M375.10,531.03H377.9M375.10,517.69H377.9M375.10,504.36H377.9M375.10,491.02H377.9M375.10,477.69H377.9M375.10,464.35H377.9" fill="none" stroke="#A0A0A0" stroke-width="1"/>
<path d="M377.9,597.7H662.0" fill="none" stroke="#A0A0A0" stroke-width="1"/>
<path d="M377.90,597.7V600.50M434.72,597.7V600.50M491.54,597.7V600.50M548.36,597.7V600.50M605.18,597.7V600.50M662.00,597.7V600.50" fill="none" stroke="#A0A0A0" stroke-width="1"/>
<text x="370.3" y="600.00" text-anchor="end" font-size="7.5" textLength="9.97" lengthAdjust="spacingAndGlyphs">0%</text>
<text x="370.3" y="586.66" text-anchor="end" font-size="7.5" textLength="13.81" lengthAdjust="spacingAndGlyphs">10%</text>
<text x="370.3" y="573.33" text-anchor="end" font-size="7.5" textLength="13.81" lengthAdjust="spacingAndGlyphs">20%</text>
<text x="370.3" y="560.00" text-anchor="end" font-size="7.5" textLength="13.81" lengthAdjust="spacingAndGlyphs">30%</text>
<text x="370.3" y="546.66" text-anchor="end" font-size="7.5" textLength="13.81" lengthAdjust="spacingAndGlyphs">40%</text>
<text x="370.3" y="533.33" text-anchor="end" font-size="7.5" textLength="13.81" lengthAdjust="spacingAndGlyphs">50%</text>
<text x="370.3" y="519.99" text-anchor="end" font-size="7.5" textLength="13.81" lengthAdjust="spacingAndGlyphs">60%</text>
<text x="370.3" y="506.66" text-anchor="end" font-size="7.5" textLength="13.81" lengthAdjust="spacingAndGlyphs">70%</text>
<text x="370.3" y="493.32" text-anchor="end" font-size="7.5" textLength="13.81" lengthAdjust="spacingAndGlyphs">80%</text>
<text x="370.3" y="479.99" text-anchor="end" font-size="7.5" textLength="13.81" lengthAdjust="spacingAndGlyphs">90%</text>
<text x="370.3" y="466.65" text-anchor="end" font-size="7.5" textLength="17.65" lengthAdjust="spacingAndGlyphs">100%</text>
<text x="377.90" y="610.7" text-anchor="middle" font-size="7.5" textLength="9.59" lengthAdjust="spacingAndGlyphs">0.1</text>
<text x="434.72" y="610.7" text-anchor="middle" font-size="7.5" textLength="3.84" lengthAdjust="spacingAndGlyphs">1</text>
<text x="491.54" y="610.7" text-anchor="middle" font-size="7.5" textLength="7.67" lengthAdjust="spacingAndGlyphs">10</text>
<text x="548.36" y="610.7" text-anchor="middle" font-size="7.5" textLength="11.51" lengthAdjust="spacingAndGlyphs">100</text>
<text x="605.18" y="610.7" text-anchor="middle" font-size="7.5" textLength="15.35" lengthAdjust="spacingAndGlyphs">1000</text>
<text x="662.00" y="610.7" text-anchor="middle" font-size="7.5" textLength="19.19" lengthAdjust="spacingAndGlyphs">10000</text>
<text x="447.7" y="622.9499999999999" font-size="7.0" font-weight="bold" textLength="143.7" lengthAdjust="spacingAndGlyphs" xml:space="preserve">anti-wP IgG Demeditec ELISA Results (U/mL)</text>
<text transform="translate(348.7,566.0) rotate(-90)" x="0" y="0" font-size="6.6" font-weight="bold" textLength="69.4" lengthAdjust="spacingAndGlyphs">Percentage of Results</text>
<path d="M383.9,481.0H399.9" stroke="#00B050" stroke-width="2.2" fill="none"/>
<text x="401.60" y="483.80" font-size="7.3" textLength="46.4" lengthAdjust="spacingAndGlyphs">Demeditec Pre</text>
<path d="M383.9,490.7H399.9" stroke="#BE4B48" stroke-width="2.2" fill="none"/>
<text x="401.60" y="493.50" font-size="7.3" textLength="49.7" lengthAdjust="spacingAndGlyphs">Demeditec Post</text>
<clipPath id="clipF"><rect x="377.9" y="461.35" width="284.6" height="137.55"/></clipPath>
<path clip-path="url(#clipF)" d="M377.90,597.70 C380.27,597.70 387.37,597.70 392.10,597.70 C396.84,597.70 401.57,597.70 406.31,597.70 C411.05,597.70 415.78,597.70 420.51,597.70 C425.25,597.70 429.98,597.70 434.72,597.70 C439.45,597.32 444.19,595.43 448.92,595.43 C453.66,595.43 458.39,597.70 463.13,597.70 C467.87,594.06 472.60,578.34 477.33,573.56 C482.07,568.79 486.80,573.14 491.54,569.03 C496.27,564.92 501.01,545.80 505.75,548.89 C510.48,551.98 515.22,581.61 519.95,587.57 C524.46,593.24 529.42,583.30 534.15,584.63 C538.89,585.97 543.62,593.39 548.36,595.57 C553.10,597.70 557.83,597.34 562.57,597.70 C567.30,597.70 572.03,597.70 576.77,597.70 C581.50,597.70 586.24,597.70 590.98,597.70 C595.71,597.70 602.81,597.70 605.18,597.70" fill="none" stroke="#00B050" stroke-width="2.2" stroke-linejoin="round"/>
<path clip-path="url(#clipF)" d="M377.90,597.70 C380.27,597.70 387.37,597.70 392.10,597.70 C396.84,597.70 401.57,597.70 406.31,597.70 C411.05,597.70 415.78,597.70 420.51,597.70 C425.25,597.70 429.98,597.70 434.72,597.70 C439.45,597.70 444.19,597.70 448.92,597.70 C453.66,597.70 458.39,597.70 463.13,597.70 C467.87,597.48 472.60,597.70 477.33,596.37 C482.07,592.03 486.80,583.54 491.54,571.70 C496.27,559.85 501.01,523.78 505.75,525.29 C510.48,526.80 515.22,571.30 519.95,580.76 C523.14,587.14 529.42,579.63 534.15,582.10 C538.89,584.57 543.62,592.97 548.36,595.57 C553.10,597.70 557.83,597.34 562.57,597.70 C567.30,597.70 572.03,597.70 576.77,597.70 C581.50,597.70 586.24,597.70 590.98,597.70 C595.71,597.70 602.81,597.70 605.18,597.70" fill="none" stroke="#BE4B48" stroke-width="2.2" stroke-linejoin="round"/>
</svg></body></html>
